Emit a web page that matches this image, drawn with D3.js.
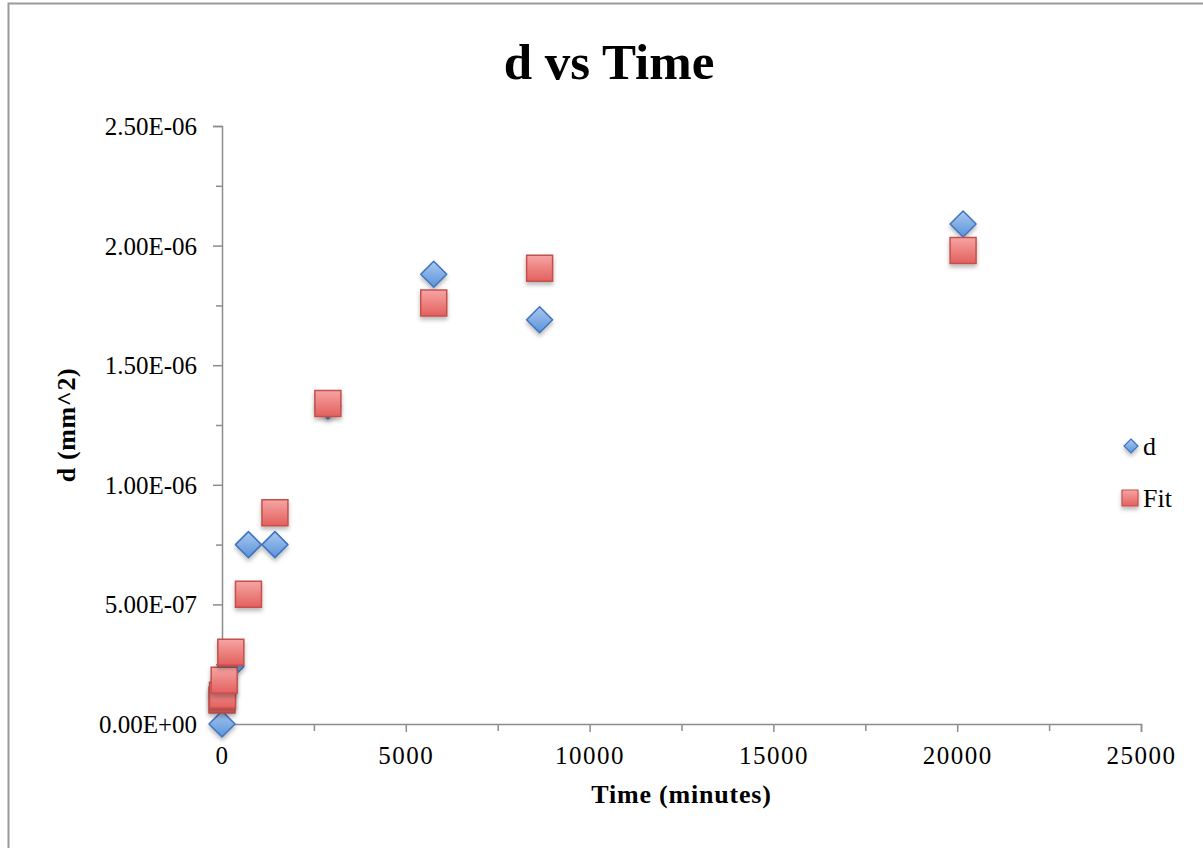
<!DOCTYPE html>
<html>
<head>
<meta charset="utf-8">
<script src="https://cdn.jsdelivr.net/npm/d3@7"></script>
<style>
  html, body { margin: 0; padding: 0; background: #fff; }
  svg { display: block; }
</style>
</head>
<body>
<svg id="chart" width="1203" height="848"></svg>
<script>
// Elapsed time in minutes and the measured / fitted d values (mm^2)
const timeMinutes = [0, 15, 60, 240, 720, 1440, 2880, 5760, 8640, 20160];
const dMeasured   = [0, 1.2e-7, 1.9e-7, 2.4e-7, 7.5e-7, 7.5e-7, 1.33e-6, 1.88e-6, 1.69e-6, 2.09e-6];
const dFit        = [1.0e-7, 1.2e-7, 1.83e-7, 3.0e-7, 5.42e-7, 8.83e-7, 1.34e-6, 1.76e-6, 1.905e-6, 1.98e-6];

const xTicks      = [0, 5000, 10000, 15000, 20000, 25000];
const xMinorTicks = [2500, 7500, 12500, 17500, 22500];
const yTicks      = [0, 5e-7, 1e-6, 1.5e-6, 2e-6, 2.5e-6];
const yTickLabels = ["0.00E+00", "5.00E-07", "1.00E-06", "1.50E-06", "2.00E-06", "2.50E-06"];
const yMinorTicks = [2.5e-7, 7.5e-7, 1.25e-6, 1.75e-6, 2.25e-6];

const seriesNames = ["d", "Fit"];

const svg = d3.select("#chart");
const serif = "'Liberation Serif', 'Times New Roman', serif";
const axisColor = "#8c8c8c";

// Plot area
const x = d3.scaleLinear().domain([0, 25000]).range([222, 1141]);
const y = d3.scaleLinear().domain([0, 2.5e-6]).range([724, 126]);

// Gradients and shadow for the markers
const defs = svg.append("defs");
const blueGrad = defs.append("linearGradient").attr("id", "blueGrad")
  .attr("x1", 0).attr("y1", 0).attr("x2", 0).attr("y2", 1);
blueGrad.append("stop").attr("offset", "0%").attr("stop-color", "#a9c9f0");
blueGrad.append("stop").attr("offset", "100%").attr("stop-color", "#5b92da");
const redGrad = defs.append("linearGradient").attr("id", "redGrad")
  .attr("x1", 0).attr("y1", 0).attr("x2", 0).attr("y2", 1);
redGrad.append("stop").attr("offset", "0%").attr("stop-color", "#f6a5a4");
redGrad.append("stop").attr("offset", "100%").attr("stop-color", "#e2605d");
const shadow = defs.append("filter").attr("id", "shadow")
  .attr("x", "-50%").attr("y", "-50%").attr("width", "200%").attr("height", "200%");
shadow.append("feDropShadow").attr("dx", 0).attr("dy", 3).attr("stdDeviation", 2)
  .attr("flood-color", "#000").attr("flood-opacity", 0.28);

// Outer chart frame
svg.append("rect")
  .attr("x", 8.5).attr("y", 3.5).attr("width", 1230).attr("height", 870)
  .attr("fill", "none").attr("stroke", "#9a9a9a").attr("stroke-width", 2);

// Text line of the surrounding page, cut at the top edge
svg.append("text").attr("x", 36).attr("y", -5)
  .attr("font-family", serif).attr("font-size", 24).attr("fill", "#000").text("g");
svg.append("text").attr("x", 1186).attr("y", -5)
  .attr("font-family", serif).attr("font-size", 24).attr("fill", "#000").text("p");

// Title
svg.append("text")
  .attr("x", 609).attr("y", 79)
  .attr("text-anchor", "middle")
  .attr("font-family", serif).attr("font-weight", "bold").attr("font-size", 51)
  .text("d vs Time");

// Y axis
const yAxis = svg.append("g").attr("transform", `translate(${x(0)},0)`);
yAxis.call(d3.axisLeft(y).tickValues(yTicks).tickSize(9).tickFormat((d, i) => yTickLabels[i]).tickPadding(16));
yAxis.select(".domain").attr("stroke", axisColor).attr("stroke-width", 1.5);
yAxis.selectAll(".tick line").attr("stroke", axisColor).attr("stroke-width", 1.5);
yAxis.selectAll(".tick text")
  .attr("font-family", serif).attr("font-size", 25).attr("fill", "#000").attr("dy", "0.34em");
const yMinor = svg.append("g").attr("transform", `translate(${x(0)},0)`);
yMinor.call(d3.axisLeft(y).tickValues(yMinorTicks).tickSize(6).tickFormat(""));
yMinor.select(".domain").remove();
yMinor.selectAll(".tick line").attr("stroke", axisColor).attr("stroke-width", 1.5);

// X axis
const xAxis = svg.append("g").attr("transform", `translate(0,${y(0)})`);
xAxis.call(d3.axisBottom(x).tickValues(xTicks).tickSize(8).tickFormat(d3.format("d")).tickPadding(14));
xAxis.select(".domain").attr("stroke", axisColor).attr("stroke-width", 1.5);
xAxis.selectAll(".tick line").attr("stroke", axisColor).attr("stroke-width", 1.5)
  .attr("opacity", d => d === 0 ? 0 : 1);
xAxis.selectAll(".tick text")
  .attr("font-family", serif).attr("font-size", 25).attr("fill", "#000")
  .attr("letter-spacing", "1.5px").attr("dy", "0.71em");
const xMinor = svg.append("g").attr("transform", `translate(0,${y(0)})`);
xMinor.call(d3.axisBottom(x).tickValues(xMinorTicks).tickSize(7).tickFormat(""));
xMinor.select(".domain").remove();
xMinor.selectAll(".tick line").attr("stroke", axisColor).attr("stroke-width", 1.5);

// Axis titles
svg.append("text")
  .attr("x", x(12500)).attr("y", 803)
  .attr("text-anchor", "middle")
  .attr("font-family", serif).attr("font-weight", "bold").attr("font-size", 26)
  .attr("letter-spacing", "0.8px")
  .text("Time (minutes)");
svg.append("text")
  .attr("transform", "translate(75,425) rotate(-90)")
  .attr("text-anchor", "middle")
  .attr("font-family", serif).attr("font-weight", "bold").attr("font-size", 26)
  .attr("letter-spacing", "0.6px")
  .text("d (mm^2)");

// Marker shapes
const diamondPath = r => `M0,${-r}L${r},0L0,${r}L${-r},0Z`;
const squarePath  = s => `M${-s},${-s}H${s}V${s}H${-s}Z`;

const measured = timeMinutes.map((t, i) => ({ t, v: dMeasured[i] }));
const fitted   = timeMinutes.map((t, i) => ({ t, v: dFit[i] }));

// d series (diamonds)
svg.append("g").selectAll("path").data(measured).join("path")
  .attr("transform", p => `translate(${x(p.t)},${y(p.v)})`)
  .attr("d", diamondPath(13))
  .attr("fill", "url(#blueGrad)").attr("stroke", "#3f74be").attr("stroke-width", 1.5)
  .attr("stroke-linejoin", "round")
  .attr("filter", "url(#shadow)");

// Fit series (squares), drawn above the measured points
svg.append("g").selectAll("path").data(fitted).join("path")
  .attr("transform", p => `translate(${x(p.t)},${y(p.v)})`)
  .attr("d", squarePath(13))
  .attr("fill", "url(#redGrad)").attr("stroke", "#c4504d").attr("stroke-width", 1.5)
  .attr("filter", "url(#shadow)");

// Legend
const legend = svg.append("g");
legend.append("path")
  .attr("transform", "translate(1131,446)")
  .attr("d", diamondPath(7))
  .attr("fill", "url(#blueGrad)").attr("stroke", "#3f74be").attr("stroke-width", 1.2)
  .attr("filter", "url(#shadow)");
legend.append("text").attr("x", 1143).attr("y", 455)
  .attr("font-family", serif).attr("font-size", 26).text(seriesNames[0]);
legend.append("path")
  .attr("transform", "translate(1130,498)")
  .attr("d", squarePath(8))
  .attr("fill", "url(#redGrad)").attr("stroke", "#c4504d").attr("stroke-width", 1.2)
  .attr("filter", "url(#shadow)");
legend.append("text").attr("x", 1143).attr("y", 507)
  .attr("font-family", serif).attr("font-size", 26).text(seriesNames[1]);
</script>
</body>
</html>
